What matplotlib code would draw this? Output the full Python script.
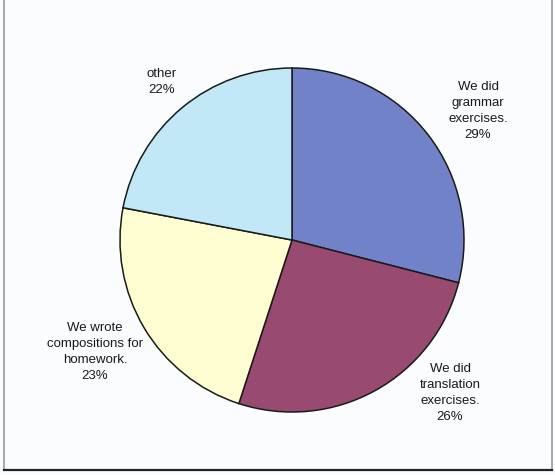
import matplotlib
matplotlib.use("Agg")
import matplotlib.pyplot as plt

# Survey answers and their shares (percent)
categories = ["We did\ngrammar\nexercises.", "We did\ntranslation\nexercises.",
              "We wrote\ncompositions for\nhomework.", "other"]
shares = [29, 26, 23, 22]
colors = ["#7282C8", "#994A70", "#FEFED2", "#C2E8F8"]

# label anchor points in pixel space (x, y from top)
label_pos = [(478, 111), (450, 393), (95, 352), (162, 82)]

W, H = 555, 475
fig = plt.figure(figsize=(W / 100, H / 100), dpi=100)
fig.patch.set_facecolor("#FBFCFD")
ax = fig.add_axes([0, 0, 1, 1])

cx, cy, r = 292, H - 240, 172
ax.pie(shares, colors=colors, startangle=90, counterclock=False,
       center=(cx, cy), radius=r, frame=True,
       wedgeprops=dict(edgecolor="#1a1a1a", linewidth=1.1))
ax.set_xlim(0, W)
ax.set_ylim(0, H)
ax.set_aspect("equal")
ax.axis("off")

for cat, val, (x, y) in zip(categories, shares, label_pos):
    ax.text(x, H - y, f"{cat}\n{val}%", ha="center", va="center",
            fontsize=9.5, family="Liberation Sans", color="#1a1a1a",
            linespacing=1.45)

# outer frame
ax.plot([4, 4], [H - 470, H], color="#9a9a9a", lw=1.2)
ax.plot([552, 552], [H - 470, H], color="#9a9a9a", lw=1.2)
ax.plot([4, 552], [H - 470, H - 470], color="#222222", lw=1.6)

fig.savefig("out.png", dpi=100, facecolor=fig.get_facecolor())
